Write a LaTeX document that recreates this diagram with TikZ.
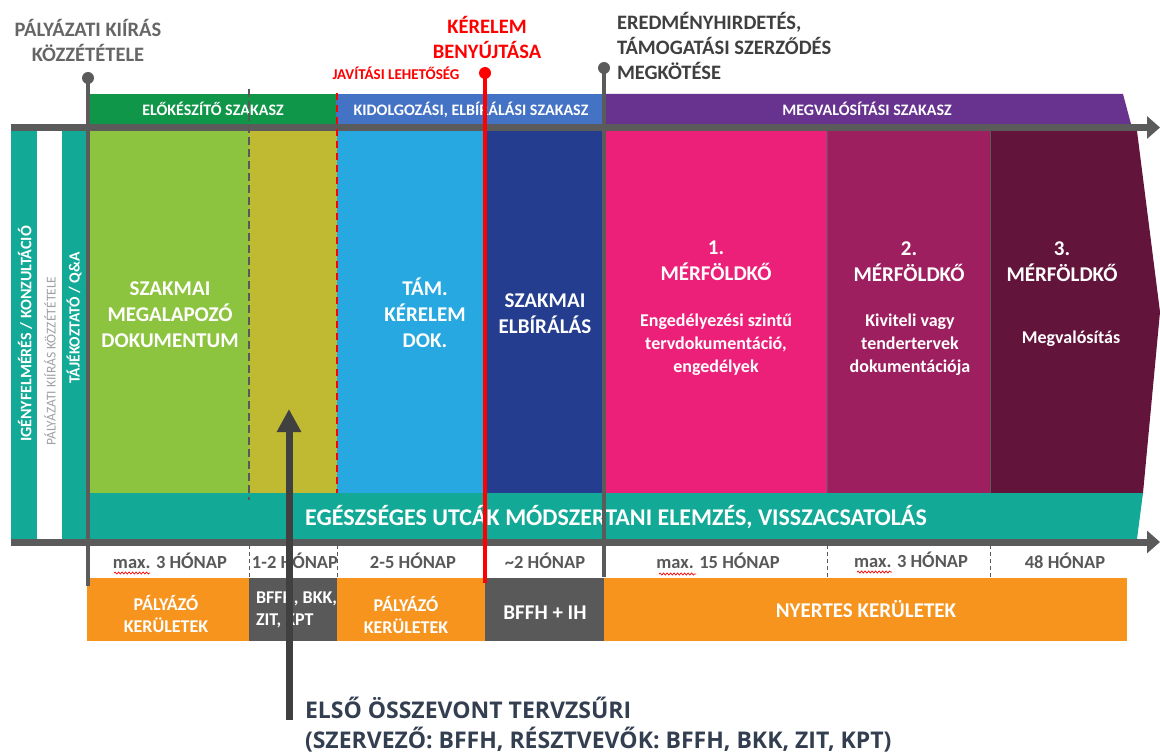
\documentclass[tikz,border=0pt]{standalone}
\usepackage{fontspec}
\setmainfont{Carlito}
\newfontfamily\capfont{Open Sans}
\usetikzlibrary{arrows.meta,decorations.pathmorphing}
\pgfdeclarelayer{bg}
\pgfsetlayers{bg,main}
\definecolor{tealc}{HTML}{12A996}
\definecolor{lgreen}{HTML}{8DC43F}
\definecolor{olivec}{HTML}{C0B932}
\definecolor{lblue}{HTML}{27A8E0}
\definecolor{dblue}{HTML}{253D8E}
\definecolor{pinkc}{HTML}{EC2079}
\definecolor{magc}{HTML}{9E1F5F}
\definecolor{maroonc}{HTML}{62143B}
\definecolor{hgreen}{HTML}{0F9648}
\definecolor{hblue}{HTML}{4472C4}
\definecolor{hpurple}{HTML}{67338F}
\definecolor{orangec}{HTML}{F7941E}
\definecolor{boxgray}{HTML}{595959}
\definecolor{axgray}{HTML}{5B5B5B}
\definecolor{lblgray}{HTML}{666666}
\definecolor{txtdark}{HTML}{3F3F3F}
\definecolor{capc}{HTML}{333F50}
\definecolor{arrc}{HTML}{404040}
\definecolor{redc}{HTML}{FF0000}
\definecolor{stripegray}{HTML}{A0A0A0}
\tikzset{
    every node/.style={inner sep=0pt, outer sep=0pt}
}
\tikzset{
    toplbl/.style={anchor=base, align=center, font=\fontsize{20.5}{25}\selectfont\bfseries},
    hdtxt/.style={anchor=base, text=white, font=\fontsize{16}{18}\selectfont\bfseries},
    wtxt/.style={anchor=base, align=center, text=white, font=\fontsize{21}{26}\selectfont\bfseries},
    subtxt/.style={anchor=base, align=center, text=white, font=\fontsize{18}{23}\selectfont\bfseries},
    durtxt/.style={anchor=base, text=boxgray, font=\fontsize{18.5}{22}\selectfont\bfseries},
    rowtxt/.style={anchor=base, align=center, text=white, font=\fontsize{18}{22}\selectfont\bfseries},
    vtxt/.style={rotate=90, text=white, font=\fontsize{16}{18}\selectfont\bfseries},
    axis/.style={axgray, line width=7pt, -{Triangle[length=13pt,width=22pt]}},
    msline/.style={line width=4pt, axgray},
    dot/.style={circle, fill=axgray, minimum size=12pt},
    sepline/.style={boxgray, line width=0.8pt, dash pattern=on 4pt off 3pt},
    squiggle/.style={redc, line width=0.7pt, decorate, decoration={snake, amplitude=1pt, segment length=3.5pt}}
}
\begin{document}
\begin{tikzpicture}[x=1pt,y=-1pt]
        \useasboundingbox (0,0) rectangle (1160,754);
        \begin{pgfonlayer}{bg}
                \fill[hgreen] (90,94) rectangle (336,124);
                \fill[hblue] (336,94) rectangle (602,124);
                \fill[hpurple] (602,94) -- (1123,94) -- (1131,124) -- (602,124) -- cycle;
                \fill[tealc] (11,131) rectangle (37,539);
                \fill[tealc] (62,131) rectangle (86,539);
                \fill[lgreen] (90,131) rectangle (249,493);
                \fill[olivec] (249,131) rectangle (337,493);
                \fill[lblue] (337,131) rectangle (485,493);
                \fill[dblue] (485,131) rectangle (603,493);
                \fill[pinkc] (606,131) rectangle (827,493);
                \fill[magc] (827,131) rectangle (990,493);
                \fill[maroonc] (990,131) -- (1137,131) -- (1160,312) -- (1143,493) -- (990,493) -- cycle;
                \draw[boxgray, line width=0.8pt] (827,131) -- (827,493) (990,131) -- (990,493);
                \fill[tealc] (90,493) -- (1143,493) -- (1137,539) -- (90,539) -- cycle;
                \fill[orangec] (87,578) rectangle (249,641);
                \fill[boxgray] (249,578) rectangle (337,641);
                \fill[orangec] (337,578) rectangle (485,641);
                \fill[boxgray] (485,578) rectangle (604,641);
                \fill[orangec] (604,578) rectangle (1127,641);
        \end{pgfonlayer}
        \node[toplbl, text=lblgray] (pk) at (88,61.5) {PÁLYÁZATI KIÍRÁS\\KÖZZÉTÉTELE};
        \node[toplbl, text=redc] (kb) at (487,58.6) {KÉRELEM\\BENYÚJTÁSA};
        \node[toplbl, text=txtdark, anchor=base west, align=left] (eh) at (617,79.6) {EREDMÉNYHIRDETÉS,\\TÁMOGATÁSI SZERZŐDÉS\\MEGKÖTÉSE};
        \node[anchor=base, text=redc, font=\fontsize{15}{18}\selectfont\bfseries] (jl) at (396,80) {JAVÍTÁSI LEHETŐSÉG};
        \node[hdtxt] (s1) at (213,116) {ELŐKÉSZÍTŐ SZAKASZ};
        \node[hdtxt] (s2) at (471,116) {KIDOLGOZÁSI, ELBÍRÁLÁSI SZAKASZ};
        \node[hdtxt] (s3) at (867,116) {MEGVALÓSÍTÁSI SZAKASZ};
        \node[vtxt] (st1) at (25,334) {IGÉNYFELMÉRÉS / KONZULTÁCIÓ};
        \node[vtxt, text=stripegray, font=\fontsize{13.5}{16}\selectfont] (st2) at (50,361) {PÁLYÁZATI KIÍRÁS KÖZZÉTÉTELE};
        \node[vtxt, font=\fontsize{15.5}{18}\selectfont\bfseries] (st3) at (74,318) {TÁJÉKOZTATÓ / Q\&A};
        \node[wtxt] (b1) at (170,347) {SZAKMAI\\MEGALAPOZÓ\\DOKUMENTUM};
        \node[wtxt] (b2) at (425,347) {TÁM.\\KÉRELEM\\DOK.};
        \node[wtxt, font=\fontsize{21}{25}\selectfont\bfseries] (b3) at (545,333) {SZAKMAI\\ELBÍRÁLÁS};
        \node[wtxt] (m1) at (716,281) {1.\\MÉRFÖLDKŐ};
        \node[subtxt] (m1t) at (716,372) {Engedélyezési szintű\\tervdokumentáció,\\engedélyek};
        \node[wtxt] (m2) at (909,282) {2.\\MÉRFÖLDKŐ};
        \node[subtxt] (m2t) at (910,372) {Kiviteli vagy\\tendertervek\\dokumentációja};
        \node[wtxt] (m3) at (1062,282) {3.\\MÉRFÖLDKŐ};
        \node[subtxt] (m3t) at (1071,343) {Megvalósítás};
        \node[anchor=base, text=white, font=\fontsize{24}{28}\selectfont\bfseries] (eu) at (616,525.5) {EGÉSZSÉGES UTCÁK MÓDSZERTANI ELEMZÉS, VISSZACSATOLÁS};
        \node[durtxt] (d1) at (170,568) {max. 3 HÓNAP};
        \node[durtxt] (d2) at (295,568) {1-2 HÓNAP};
        \node[durtxt] (d3) at (413,568) {2-5 HÓNAP};
        \node[durtxt] (d4) at (545,568) {\textasciitilde2 HÓNAP};
        \node[durtxt] (d5) at (718,568) {max. 15 HÓNAP};
        \node[durtxt] (d6) at (911,567) {max. 3 HÓNAP};
        \node[durtxt] (d7) at (1065,568) {48 HÓNAP};
        \node[rowtxt] (r1) at (166,632) {PÁLYÁZÓ\\KERÜLETEK};
        \node[rowtxt, anchor=base west, align=left] (r2) at (256,625) {BFFH, BKK,\\ZIT, KPT};
        \node[rowtxt] (r3) at (406,633) {PÁLYÁZÓ\\KERÜLETEK};
        \node[rowtxt, font=\fontsize{21}{24}\selectfont\bfseries] (r4) at (545,619) {BFFH + IH};
        \node[rowtxt, font=\fontsize{21}{24}\selectfont\bfseries] (r5) at (866,617) {NYERTES KERÜLETEK};
        \node[anchor=base west, align=left, text=capc, font=\capfont\fontsize{23}{30}\selectfont\bfseries] (ej) at (305,748) {ELSŐ ÖSSZEVONT TERVZSŰRI\\(SZERVEZŐ: BFFH, RÉSZTVEVŐK: BFFH, BKK, ZIT, KPT)};
        \draw[squiggle] (114,573) -- (150,573);
        \draw[squiggle] (659,574) -- (696,574);
        \draw[squiggle] (857,572) -- (892,572);
        \coordinate (ax0) at (11,127.5);
        \coordinate (ax1) at (1160,127.5);
        \coordinate (ax2) at (11,542);
        \coordinate (ax3) at (1160,542);
        \draw[axis] (ax0) -- (ax1);
        \draw[axis] (ax2) -- (ax3);
        \draw[boxgray, line width=2.5pt, dash pattern=on 8pt off 4pt] (249,89) -- (249,500);
        \draw[redc, line width=2.5pt, dash pattern=on 7pt off 5pt] (337,93) -- (337,493);
        \draw[sepline] (249,545) -- (249,578) (337,545) -- (337,578) (827,545) -- (827,578) (990,545) -- (990,578);
        \node[dot] (p0) at (88,78) {};
        \node[dot, fill=redc] (p1) at (485,73) {};
        \node[dot] (p2) at (604,68) {};
        \coordinate (p0e) at (88,586);
        \coordinate (p1e) at (485,583);
        \coordinate (p2e) at (604,577);
        \draw[msline] (p0.center) -- (p0e);
        \draw[msline, redc, line width=3.5pt] (p1.center) -- (p1e);
        \draw[msline] (p2.center) -- (p2e);
        \coordinate (a0) at (289,720);
        \coordinate (a1) at (289,409);
        \draw[arrc, line width=7pt, -{Triangle[length=23pt,width=23pt]}] (a0) -- (a1);
\end{tikzpicture}
\end{document}
